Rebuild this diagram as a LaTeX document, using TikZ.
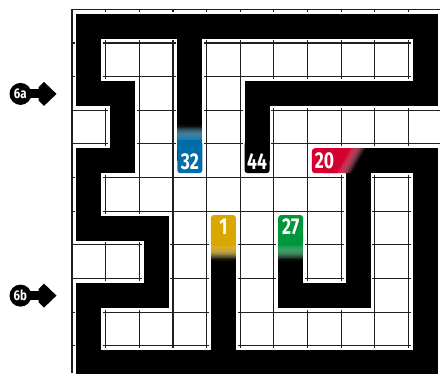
\documentclass[tikz,border=0pt]{standalone}
\usepackage{graphicx}
\usepackage{fontspec}
\setmainfont{Fira Sans}
\definecolor{cblue}{RGB}{0,108,168}
\definecolor{cred}{RGB}{212,0,45}
\definecolor{cyel}{RGB}{217,168,0}
\definecolor{cgreen}{RGB}{0,150,60}
\tikzset{
  gridline/.style={black!88, line width=1.1pt},
  mazeout/.style={white, line width=28.5pt, line join=miter, line cap=butt},
  maze/.style={black, line width=25pt, line join=miter, line cap=butt},
  numtext/.style={text=white, inner sep=0pt, font=\bfseries\fontsize{23}{23}\selectfont},
  marktext/.style={text=white, inner sep=0pt, font=\bfseries\fontsize{14}{14}\selectfont},
}
% vertical gradient strip: #1 colour, #2 x centre, #3 y at colour end, #4 y at black end
\newcommand\mzvgrad[4]{%
  \foreach \mzk in {0,...,13}{%
    \pgfmathsetmacro\mzt{(\mzk+0.5)/14}%
    \pgfmathtruncatemacro\mza{100/(1+\mzt)}%
    \pgfmathtruncatemacro\mzb{100*(1-\mzt*\mzt)}%
    \pgfmathsetmacro\mzya{#3+(#4-#3)*\mzk/14}%
    \pgfmathsetmacro\mzyb{#3+(#4-#3)*(\mzk+1.3)/14}%
    \fill[#1!\mza!white!\mzb!black] ({#2-12.5},\mzya) rectangle ({#2+12.5},\mzyb);
  }}
\newcommand\mzmarker[3]{% #1 name, #2 y, #3 text
  \fill ({20.5},{#2}) circle (11);
  \fill ({28},{#2-4.5}) rectangle ({42},{#2+4.5});
  \fill ({44},{#2-12}) -- ({56.5},{#2}) -- ({44},{#2+12}) -- ({38.5},{#2+6.5}) -- ({38.5},{#2-6.5}) -- cycle;
  \node[marktext] (#1) at ({20.3},{#2}) {\scalebox{0.82}[1]{#3}};
}
\begin{document}
\begin{tikzpicture}[x=1pt,y=-1pt]
\useasboundingbox (0,0) rectangle (440,373);
\def\ux{33.65}
% grid
\foreach \k in {0,...,10}{
  \draw[gridline] ({72+\ux*\k},9.3) -- ({72+\ux*\k},373);
  \draw[gridline] (72,{9.3+\ux*\k}) -- (440,{9.3+\ux*\k});
}
% cell centres
\foreach \i in {0,...,10}{
  \foreach \j in {0,...,10}{
    \coordinate (p\i-\j) at ({72+\ux*(\i+0.5)},{9.3+\ux*(\j+0.5)});
  }
}
% maze paths
\foreach \st in {mazeout,maze}{
  \draw[\st] (p6-6) -- (p6-8) -- (p8-8) -- (p8-4) -- (p10-4) -- (p10-10) -- (p0-10)
     -- (p0-8) -- (p2-8) -- (p2-6) -- (p0-6) -- (p0-4) -- (p1-4) -- (p1-2) -- (p0-2)
     -- (p0-0) -- (p10-0) -- (p10-2) -- (p5-2) -- (p5-4);
  \draw[\st] (p3-0) -- (p3-4);
  \draw[\st] (p4-6) -- (p4-10);
  \draw[\st] (p7-4) -- (p8-4);
}
% label 32 (blue, path from above)
\mzvgrad{cblue}{189.8}{140.7}{125.7}
\fill[cblue, rounded corners=3pt] (177.3,140.7) rectangle (202.3,173.2);
\fill[cblue] (177.3,140.4) rectangle (202.3,150);
\node[numtext] (n32) at (189.8,161.7) {\scalebox{0.76}[1]{32}};
% label 44 (black)
\fill[black, rounded corners=3pt] (244.6,140.7) rectangle (269.6,173.2);
\fill[black] (244.6,140.4) rectangle (269.6,150);
\node[numtext] (n44) at (257.1,161.7) {\scalebox{0.76}[1]{44}};
% label 1 (yellow, path from below)
\mzvgrad{cyel}{223.4}{245}{260.5}
\fill[cyel, rounded corners=3pt] (210.9,215) rectangle (235.9,245.3);
\fill[cyel] (210.9,235) rectangle (235.9,245.3);
\node[numtext] (n1) at (223.4,226.7) {\scalebox{0.76}[1]{1}};
% label 27 (green, path from below)
\mzvgrad{cgreen}{290.7}{245}{260.5}
\fill[cgreen, rounded corners=3pt] (278.2,215) rectangle (303.2,245.3);
\fill[cgreen] (278.2,235) rectangle (303.2,245.3);
\node[numtext] (n27) at (290.7,226.7) {\scalebox{0.76}[1]{27}};
% label 20 (red, path to the right, slanted fade)
\fill[cred, rounded corners=3pt] (311.9,148.2) rectangle (340,173.2);
\fill[cred] (325,148.2) -- (350.3,148.2) -- (336.3,173.2) -- (325,173.2) -- cycle;
\foreach \mzk in {0,...,13}{
  \pgfmathsetmacro\mzt{(\mzk+0.5)/14}
  \pgfmathtruncatemacro\mza{100/(1+\mzt)}
  \pgfmathtruncatemacro\mzb{100*(1-\mzt*\mzt)}
  \pgfmathsetmacro\mzxa{350+16*\mzk/14}
  \pgfmathsetmacro\mzxb{350+16*(\mzk+1.3)/14}
  \fill[cred!\mza!white!\mzb!black] (\mzxa,148.2) -- (\mzxb,148.2) -- ({\mzxb-14},173.2) -- ({\mzxa-14},173.2) -- cycle;
}
\node[numtext] (n20) at (324.4,160.9) {\scalebox{0.76}[1]{20}};
% markers
\mzmarker{m6a}{93.9}{6a}
\mzmarker{m6b}{295.6}{6b}
\end{tikzpicture}
\end{document}
